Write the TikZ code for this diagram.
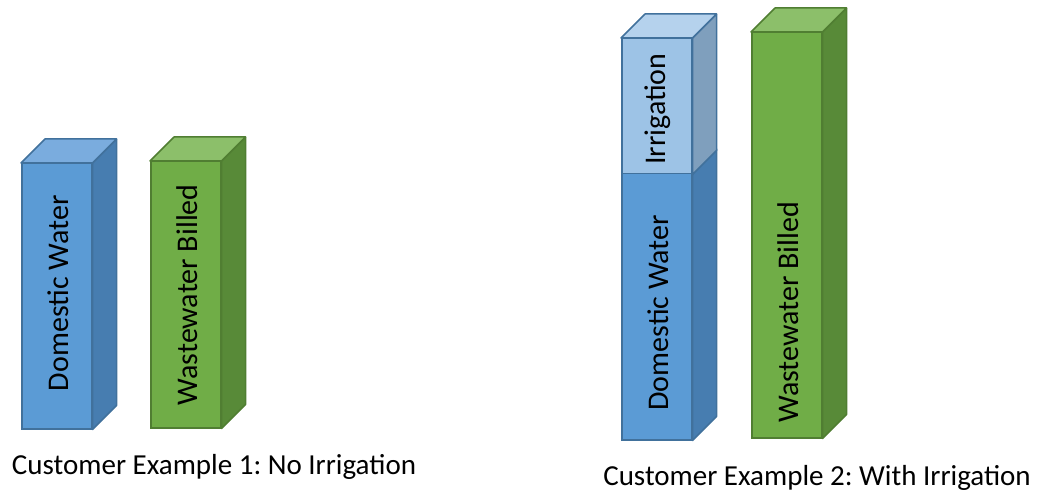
\documentclass[tikz,border=0pt]{standalone}
\usepackage{fontspec}
\setmainfont{Carlito}
\usepackage{tikz}
\usetikzlibrary{positioning}
\frenchspacing
\definecolor{clrBF}{RGB}{91,155,213}
\definecolor{clrBS}{RGB}{71,125,176}
\definecolor{clrBT}{RGB}{122,172,222}
\definecolor{clrBD}{RGB}{65,113,156}
\definecolor{clrIF}{RGB}{157,195,230}
\definecolor{clrIS}{RGB}{127,159,189}
\definecolor{clrIT}{RGB}{181,210,237}
\definecolor{clrGF}{RGB}{112,173,71}
\definecolor{clrGS}{RGB}{88,138,56}
\definecolor{clrGT}{RGB}{140,191,106}
\definecolor{clrGD}{RGB}{80,126,50}
\tikzset{
  front/.style={rectangle,line width=1.5pt,inner sep=0pt,anchor=north west,
    minimum width=70pt},
  frontB/.style={front,draw=clrBD,fill=clrBF},
  frontI/.style={front,draw=clrBD,fill=clrIF},
  frontG/.style={front,draw=clrGD,fill=clrGF},
  face/.style={line width=1.5pt,line join=round},
  barlab/.style={rotate=90,inner sep=0pt,font=\fontsize{30}{34}\selectfont},
  caption/.style={font=\fontsize{29}{33}\selectfont}
}

\begin{document}
\begin{tikzpicture}[x=1pt,y=-1pt]
  \def\dx{24}
  \def\dy{-24}
  \useasboundingbox (0,0) rectangle (1042,492);

  % example 1: no irrigation
  \node[frontB,minimum height=265pt] (dom1) at (21,163) {};
  \node[frontG,minimum height=266pt] (ww1) at (150,161) {};

  % example 2: with irrigation
  \node[frontB,minimum height=266pt] (dom2) at (621,173) {};
  \node[frontI,minimum height=135pt] (irr2) at (621,38) {};
  \node[frontG,minimum height=405pt] (ww2) at (751,32) {};

  % side and top faces
  \draw[face,draw=clrBD,fill=clrBS] (dom1.south east) -- (dom1.north east)
    -- ([shift={(\dx,\dy)}]dom1.north east)
    -- ([shift={(\dx,\dy)}]dom1.south east) -- cycle;
  \draw[face,draw=clrBD,fill=clrBT] (dom1.north west) -- (dom1.north east)
    -- ([shift={(\dx,\dy)}]dom1.north east)
    -- ([shift={(\dx,\dy)}]dom1.north west) -- cycle;

  \draw[face,draw=clrGD,fill=clrGS] (ww1.south east) -- (ww1.north east)
    -- ([shift={(\dx,\dy)}]ww1.north east)
    -- ([shift={(\dx,\dy)}]ww1.south east) -- cycle;
  \draw[face,draw=clrGD,fill=clrGT] (ww1.north west) -- (ww1.north east)
    -- ([shift={(\dx,\dy)}]ww1.north east)
    -- ([shift={(\dx,\dy)}]ww1.north west) -- cycle;

  \draw[face,draw=clrBD,fill=clrBS] (dom2.south east) -- (dom2.north east)
    -- ([shift={(\dx,\dy)}]dom2.north east)
    -- ([shift={(\dx,\dy)}]dom2.south east) -- cycle;
  \draw[face,draw=clrBD,fill=clrIS] (irr2.south east) -- (irr2.north east)
    -- ([shift={(\dx,\dy)}]irr2.north east)
    -- ([shift={(\dx,\dy)}]irr2.south east) -- cycle;
  \draw[face,draw=clrBD,fill=clrIT] (irr2.north west) -- (irr2.north east)
    -- ([shift={(\dx,\dy)}]irr2.north east)
    -- ([shift={(\dx,\dy)}]irr2.north west) -- cycle;

  \draw[face,draw=clrGD,fill=clrGS] (ww2.south east) -- (ww2.north east)
    -- ([shift={(\dx,\dy)}]ww2.north east)
    -- ([shift={(\dx,\dy)}]ww2.south east) -- cycle;
  \draw[face,draw=clrGD,fill=clrGT] (ww2.north west) -- (ww2.north east)
    -- ([shift={(\dx,\dy)}]ww2.north east)
    -- ([shift={(\dx,\dy)}]ww2.north west) -- cycle;

  % bar labels
  \node[barlab] (dom1t) at ([xshift=1pt,yshift=3pt]dom1.center) {Domestic Water};
  \node[barlab] (ww1t) at ([xshift=1pt]ww1.center) {Wastewater Billed};
  \node[barlab] (dom2t) at ([xshift=1pt,yshift=-6pt]dom2.center) {Domestic Water};
  \node[barlab] (irr2t) at ([xshift=1pt,yshift=-3pt]irr2.center) {Irrigation};
  \node[barlab] (ww2t) at ([xshift=1pt,yshift=-77pt]ww2.center) {Wastewater Billed};

  % captions
  \node[caption] (cap1) at (214,467) {Customer Example 1: No Irrigation};
  \node[caption] (cap2) at (817,478) {Customer Example 2: With Irrigation};
\end{tikzpicture}
\end{document}
